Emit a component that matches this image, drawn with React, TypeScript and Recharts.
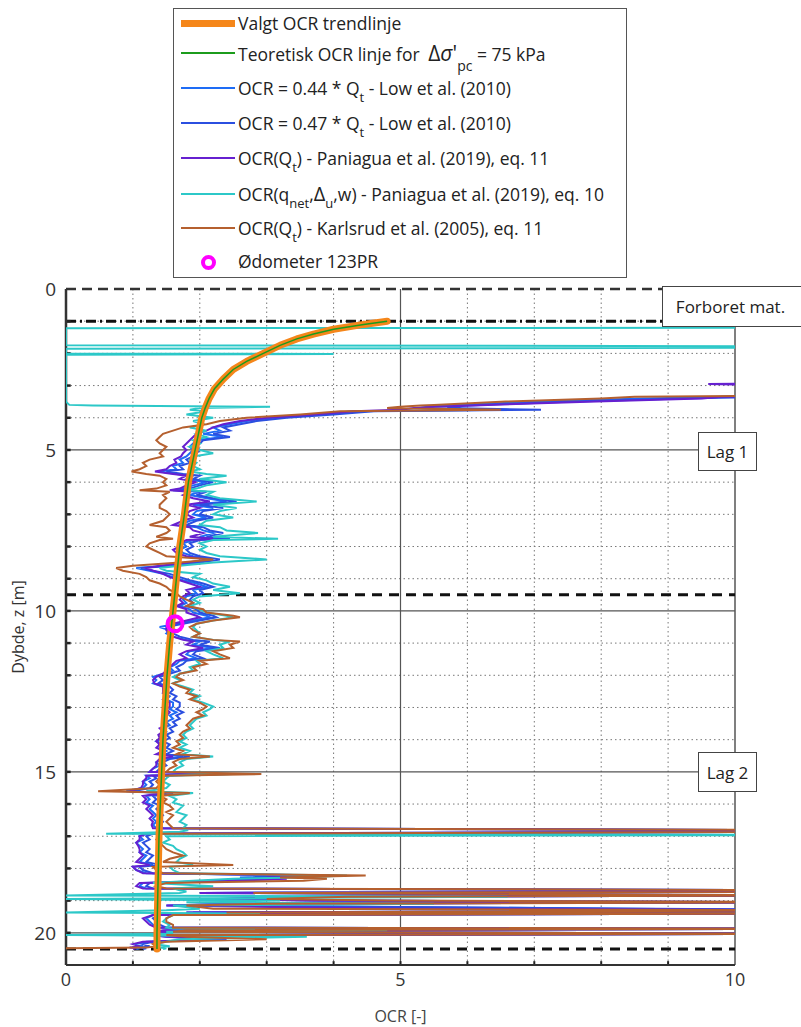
import { ComposedChart, Scatter, XAxis, YAxis, ReferenceLine, CartesianGrid } from 'recharts';

// dybder (m) felles for alle CPT-tolkninger
const depth = [
  1.18, 1.2, 1.22, 1.75, 1.78, 1.82, 1.86, 1.9, 2.0, 2.02,
  2.04, 2.9, 2.95, 3.0, 3.3, 3.35, 3.4, 3.5, 3.6, 3.62,
  3.66, 3.7, 3.75, 3.8, 3.9, 4.0, 4.1, 4.2, 4.3, 4.4,
  4.5, 4.6, 4.7, 4.8, 4.9, 5.0, 5.1, 5.2, 5.3, 5.4,
  5.5, 5.6, 5.67, 5.75, 5.8, 5.9, 6.0, 6.1, 6.2, 6.25,
  6.3, 6.4, 6.5, 6.6, 6.7, 6.8, 6.9, 7.0, 7.1, 7.2,
  7.33, 7.4, 7.5, 7.58, 7.7, 7.76, 7.8, 7.9, 8.0, 8.1,
  8.2, 8.3, 8.4, 8.5, 8.6, 8.67, 8.75, 8.85, 8.95, 9.05,
  9.15, 9.25, 9.35, 9.45, 9.55, 9.65, 9.75, 9.85, 9.95, 10.05,
  10.15, 10.2, 10.3, 10.4, 10.5, 10.6, 10.7, 10.8, 10.9, 10.95,
  11.05, 11.15, 11.25, 11.35, 11.47, 11.55, 11.65, 11.75, 11.85, 11.95,
  12.05, 12.15, 12.25, 12.35, 12.45, 12.55, 12.65, 12.75, 12.85, 12.97,
  13.05, 13.15, 13.25, 13.35, 13.45, 13.55, 13.65, 13.75, 13.85, 13.95,
  14.05, 14.15, 14.25, 14.35, 14.45, 14.52, 14.6, 14.7, 14.8, 14.9,
  15.0, 15.07, 15.12, 15.2, 15.3, 15.4, 15.5, 15.6, 15.66, 15.75,
  15.85, 15.95, 16.05, 16.15, 16.25, 16.35, 16.45, 16.55, 16.65, 16.75,
  16.82, 16.86, 16.92, 16.96, 17.0, 17.1, 17.2, 17.3, 17.4, 17.5,
  17.6, 17.7, 17.8, 17.89, 17.95, 18.05, 18.15, 18.22, 18.28, 18.32,
  18.38, 18.45, 18.55, 18.62, 18.68, 18.72, 18.76, 18.84, 18.88, 18.95,
  19.0, 19.05, 19.1, 19.15, 19.25, 19.3, 19.37, 19.4, 19.45, 19.55,
  19.65, 19.75, 19.84, 19.87, 19.92, 19.97, 20.03, 20.07, 20.12, 20.2,
  20.28, 20.35, 20.42, 20.46, 20.48, 20.5,
];

const N = null;

const ocrLow044: (number | null)[] = [
  N, N, N, N, N, N, N, N, N, N,
  N, 11, 10.5, 10.6, 10.8, 10.0, 8.6, 7.0, 5.8, 5.6,
  5.4, 5.3, 6.6, 4.3, 3.8, 3.1, 2.7, 2.45, 2.2, 2.3,
  2.05, 2.35, 1.95, 1.9, 1.85, 1.9, 1.85, 1.8, 1.7, 1.75,
  1.6, 1.65, 1.4, 1.65, 1.9, 1.8, 2.1, 1.9, 1.75, 1.6,
  2.0, 1.85, 2.1, 2.4, 1.9, 2.2, 1.95, 1.9, 2.1, 1.85,
  1.7, 1.95, 2.05, 2.2, 2.0, 2.3, 1.9, 1.75, 1.8, 1.7,
  1.75, 1.9, 2.2, 1.9, 1.5, 1.05, 1.25, 1.45, 1.6, 1.75,
  1.95, 2.1, 1.9, 1.95, 1.8, 1.75, 1.8, 1.7, 1.85, 1.9,
  2.1, 2.15, 1.9, 1.65, 1.4, 1.55, 1.5, 1.6, 1.8, 2.0,
  1.9, 2.2, 1.85, 1.8, 1.95, 1.7, 1.65, 1.55, 1.6, 1.45,
  1.3, 1.35, 1.3, 1.45, 1.5, 1.45, 1.55, 1.5, 1.6, 1.6,
  1.55, 1.65, 1.55, 1.6, 1.5, 1.55, 1.45, 1.5, 1.4, 1.45,
  1.35, 1.45, 1.4, 1.5, 1.4, 1.75, 1.45, 1.35, 1.4, 1.3,
  1.25, 2.3, 1.2, 1.25, 1.15, 1.2, 1.15, 0.9, 1.5, 1.2,
  1.25, 1.2, 1.3, 1.25, 1.3, 1.35, 1.3, 1.35, 1.3, 1.35,
  12, 11, 1.2, 1.15, 1.1, 1.15, 1.05, 1.1, 1.15, 1.1,
  1.2, 1.15, 1.1, 1.3, 1.0, 1.05, 1.2, 3.6, 2.6, 3.0,
  2.3, 1.15, 1.1, 1.2, 11, 11, 2.0, 11, 3.5, 2.2,
  3.6, 11, 2.5, 1.5, 8.3, 12, 1.8, 11, 1.3, 1.2,
  1.25, 1.3, 1.4, 12, 1.5, 1.4, 12, 1.3, 1.5, 2.2,
  1.2, 1.05, 1.15, 1.0, 1.1, 1.05,
];

const ocrLow047: (number | null)[] = [
  N, N, N, N, N, N, N, N, N, N,
  N, 11.7, 11.2, 11.3, 11.4, 10.6, 9.2, 7.5, 6.2, 6.0,
  5.8, 5.7, 7.1, 4.6, 4.0, 3.3, 2.85, 2.6, 2.35, 2.45,
  2.2, 2.45, 2.05, 2.0, 1.95, 2.0, 1.95, 1.9, 1.8, 1.85,
  1.7, 1.75, 1.5, 1.75, 2.0, 1.9, 2.2, 2.0, 1.85, 1.7,
  2.1, 1.95, 2.2, 2.55, 2.0, 2.35, 2.05, 2.0, 2.2, 1.95,
  1.8, 2.05, 2.15, 2.35, 2.1, 2.45, 2.0, 1.85, 1.9, 1.8,
  1.85, 2.0, 2.3, 2.0, 1.6, 1.12, 1.3, 1.55, 1.7, 1.85,
  2.05, 2.2, 2.0, 2.05, 1.9, 1.85, 1.9, 1.8, 1.95, 2.0,
  2.2, 2.25, 2.0, 1.75, 1.5, 1.65, 1.6, 1.7, 1.9, 2.15,
  2.0, 2.3, 1.95, 1.9, 2.05, 1.8, 1.75, 1.65, 1.7, 1.55,
  1.4, 1.45, 1.38, 1.55, 1.6, 1.55, 1.65, 1.6, 1.7, 1.7,
  1.65, 1.75, 1.65, 1.7, 1.6, 1.65, 1.55, 1.6, 1.5, 1.55,
  1.45, 1.55, 1.5, 1.6, 1.5, 1.85, 1.55, 1.45, 1.5, 1.4,
  1.35, 2.45, 1.3, 1.35, 1.25, 1.3, 1.25, 1.0, 1.6, 1.3,
  1.35, 1.3, 1.4, 1.35, 1.4, 1.45, 1.4, 1.45, 1.4, 1.45,
  12, 11.5, 1.3, 1.25, 1.2, 1.25, 1.15, 1.2, 1.25, 1.2,
  1.3, 1.25, 1.2, 1.4, 1.1, 1.15, 1.3, 3.8, 2.8, 3.2,
  2.45, 1.25, 1.2, 1.3, 11.5, 11.5, 2.1, 11.5, 3.7, 2.35,
  3.8, 11.5, 2.7, 1.6, 8.8, 12, 1.9, 11.5, 1.4, 1.3,
  1.35, 1.4, 1.5, 12, 1.6, 1.5, 12, 1.4, 1.6, 2.3,
  1.3, 1.15, 1.25, 1.1, 1.2, 1.15,
];

const ocrPaniagua11: (number | null)[] = [
  N, N, N, N, N, N, N, N, N, N,
  N, 12, 9.6, 10.8, 10.5, 9.8, 9.5, 7.8, 6.3, 6.1,
  5.5, 5.2, 5.0, 4.3, 3.7, 3.0, 2.6, 2.35, 2.2, 2.1,
  1.95, 1.9, 1.85, 1.8, 1.75, 1.8, 1.75, 1.72, 1.62, 1.65,
  1.55, 1.5, 1.33, 1.6, 1.8, 1.7, 1.95, 1.8, 1.7, 1.55,
  1.85, 1.75, 1.9, 2.15, 1.8, 2.0, 1.85, 1.8, 1.9, 1.75,
  1.6, 1.85, 1.9, 2.05, 1.85, 2.2, 1.8, 1.7, 1.7, 1.6,
  1.65, 1.8, 2.1, 1.8, 1.4, 1.2, 1.3, 1.45, 1.55, 1.7,
  1.85, 2.0, 1.8, 1.85, 1.75, 1.7, 1.75, 1.65, 1.8, 1.8,
  1.95, 2.0, 1.8, 1.6, 1.5, 1.5, 1.55, 1.6, 1.75, 1.9,
  1.8, 2.05, 1.8, 1.7, 1.8, 1.65, 1.6, 1.55, 1.5, 1.45,
  1.35, 1.3, 1.32, 1.45, 1.45, 1.45, 1.5, 1.45, 1.55, 1.55,
  1.5, 1.55, 1.5, 1.5, 1.45, 1.5, 1.4, 1.45, 1.38, 1.4,
  1.35, 1.4, 1.35, 1.45, 1.35, 1.6, 1.4, 1.35, 1.35, 1.3,
  1.25, 2.2, 1.2, 1.2, 1.15, 1.15, 1.12, 0.95, 1.45, 1.15,
  1.2, 1.15, 1.25, 1.2, 1.25, 1.3, 1.25, 1.3, 1.28, 1.3,
  12, 11, 1.2, 1.15, 1.1, 1.1, 1.05, 1.08, 1.1, 1.1,
  1.15, 1.1, 1.05, 1.25, 1.0, 1.05, 1.15, 4.0, 3.0, 3.3,
  2.6, 1.1, 1.05, 1.15, 11, 11, 2.0, 11, 3.6, 2.3,
  3.7, 11, 2.6, 1.5, 5.0, 12, 1.8, 11, 1.3, 1.15,
  1.2, 1.25, 1.35, 12, 1.45, 1.35, 12, 1.25, 1.5, 2.4,
  1.15, 1.0, 1.1, 0.95, 1.05, 1.0,
];

const ocrPaniagua10: (number | null)[] = [
  12, 12, 0, 0, 12, 12, 0, 0, 0, 4,
  0, 0, 0, 0, 0, 0, 0, 0, 0.05, 0.4,
  3.05, 2.0, 1.85, 2.1, 1.8, 2.2, 1.9, 2.05, 1.85, 2.1,
  1.95, 2.1, 1.9, 2.0, 1.85, 2.0, 2.2, 1.9, 1.85, 1.95,
  1.9, 2.0, 1.85, 2.1, 2.4, 2.0, 2.4, 2.1, 1.95, 1.8,
  2.2, 2.1, 2.3, 2.85, 2.2, 2.55, 2.3, 2.2, 2.5, 2.1,
  2.0, 2.3, 2.4, 2.87, 2.2, 3.17, 2.2, 2.0, 2.1, 2.0,
  2.1, 2.3, 3.0, 2.2, 1.7, 1.4, 1.5, 2.0, 1.9, 2.1,
  2.2, 2.45, 2.2, 2.6, 2.0, 1.9, 2.0, 1.85, 2.0, 2.1,
  2.4, 2.5, 2.2, 1.95, 1.9, 1.95, 2.0, 1.9, 2.2, 2.45,
  2.3, 2.35, 2.1, 2.2, 2.35, 1.95, 2.0, 1.85, 1.9, 1.7,
  1.6, 1.7, 1.6, 1.75, 1.9, 1.85, 2.0, 1.9, 2.05, 2.2,
  2.15, 2.05, 2.1, 1.95, 1.9, 1.85, 1.9, 1.8, 1.75, 1.8,
  1.7, 1.8, 1.7, 1.85, 1.75, 2.2, 1.8, 1.7, 1.75, 1.65,
  1.6, 2.5, 1.55, 1.5, 1.45, 1.55, 1.5, 1.2, 1.9, 1.55,
  1.65, 1.6, 1.75, 1.7, 1.65, 1.8, 1.75, 1.7, 1.8, 1.75,
  1.8, 1.7, 0.6, 12, 1.5, 1.55, 1.45, 1.6, 1.65, 1.75,
  1.8, 1.7, 1.65, 1.9, 1.55, 1.6, 1.7, 4.2, 3.5, 2.5,
  1.9, 1.3, 2.2, 1.6, 1.7, 1.8, 1.7, 0, 6.6, 0,
  3.2, 1.8, 5.5, 1.6, 2.0, 1.5, 0, 2.9, 1.6, 1.5,
  1.45, 1.55, 1.5, 1.6, 4.8, 1.5, 1.6, 0, 3.6, 1.7,
  1.5, 1.3, 1.55, 1.4, 1.5, 1.45,
];

const ocrKarlsrud: (number | null)[] = [
  N, N, N, N, N, N, N, N, N, N,
  N, 12, 11.5, 11.5, 11.2, 8.5, 8.0, 6.5, 5.5, 5.3,
  5.0, 4.8, 6.5, 4.1, 3.5, 2.7, 2.3, 2.1, 1.75, 1.6,
  1.45, 1.4, 1.35, 1.4, 1.5, 1.45, 1.4, 1.45, 1.25, 1.15,
  1.2, 1.1, 0.98, 1.2, 1.4, 1.5, 1.45, 1.5, 1.35, 1.1,
  1.55, 1.45, 1.5, 1.45, 1.4, 1.4, 1.5, 1.55, 1.5, 1.45,
  1.25, 1.5, 1.55, 1.5, 1.35, 1.6, 1.4, 1.25, 1.2, 1.3,
  1.4, 1.5, 2.2, 1.7, 1.0, 0.75, 0.85, 1.1, 1.2, 1.25,
  1.4, 1.5, 1.55, 1.65, 1.7, 1.8, 1.9, 1.8, 2.05, 2.1,
  2.5, 2.6, 2.2, 1.95, 1.85, 1.9, 2.0, 1.9, 2.2, 2.6,
  2.45, 2.5, 2.2, 2.3, 2.45, 2.0, 2.1, 1.9, 1.95, 1.7,
  1.65, 1.75, 1.6, 1.7, 1.85, 1.8, 1.95, 1.85, 2.0, 2.1,
  2.05, 1.95, 2.05, 1.9, 1.85, 1.8, 1.85, 1.75, 1.7, 1.75,
  1.65, 1.7, 1.6, 1.75, 1.65, 2.15, 1.7, 1.6, 1.65, 1.55,
  1.5, 2.92, 1.45, 1.4, 1.35, 1.4, 1.35, 0.48, 1.85, 1.4,
  1.5, 1.45, 1.55, 1.6, 1.5, 1.6, 1.55, 1.5, 1.55, 1.6,
  13, 12, 1.4, 1.4, 1.4, 1.35, 1.4, 1.45, 1.5, 1.6,
  1.75, 1.55, 1.45, 2.5, 1.3, 1.35, 1.45, 4.48, 3.2, 3.9,
  3.55, 1.5, 1.35, 1.5, 12, 12, 2.8, 12, 4.2, 3.0,
  4.8, 12, 3.0, 1.8, 2.2, 12, 2.4, 12, 1.6, 1.5,
  1.5, 1.6, 1.6, 12, 1.8, 1.6, 12, 1.5, 1.8, 3.0,
  1.5, 1.3, 1.35, 1.2, 0, 0,
];

// valgt trendlinje / teoretisk linje
const trendDepth = [1.0, 1.1, 1.25, 1.4, 1.55, 1.75, 2.0, 2.25, 2.5, 2.8, 3.1, 3.4, 3.7, 4.0, 5.0, 6.0, 7.0, 8.0, 9.0, 10.0, 11.0, 12.0, 13.0, 14.0, 15.0, 16.0, 17.0, 18.0, 19.0, 20.0, 20.5];
const trendOcr = [4.8, 4.45, 4.0, 3.7, 3.45, 3.2, 2.95, 2.7, 2.5, 2.35, 2.22, 2.14, 2.08, 2.03, 1.93, 1.83, 1.77, 1.7, 1.65, 1.6, 1.55, 1.51, 1.48, 1.45, 1.43, 1.41, 1.39, 1.38, 1.37, 1.36, 1.36];

const odometerDepth = [10.4];
const odometerOcr = [1.63];

const xTicks = [0, 5, 10];
const yTicks = [0, 5, 10, 15, 20];
const xMinor = [1, 2, 3, 4, 6, 7, 8, 9];
const yMinor = [1, 2, 3, 4, 6, 7, 8, 9, 11, 12, 13, 14, 16, 17, 18, 19];
const xMajor = [5];
const yMajor = [5, 10, 15, 20];
const yTickMarks = [1, 2, 3, 4, 5, 6, 7, 8, 9, 10, 11, 12, 13, 14, 15, 16, 17, 18, 19, 20];
const xTickMarks = [1, 2, 3, 4, 5, 6, 7, 8, 9];

const FONT = "'Open Sans', 'DejaVu Sans', sans-serif";

const C = {
  orange: '#f5861a',
  green: '#1c9c1c',
  blue1: '#1e6cf5',
  blue2: '#2b4fe0',
  purple: '#6620d0',
  cyan: '#2cc8c8',
  brown: '#b5602f',
  magenta: '#ff00ff',
};

const toPoints = (d: number[], ocr: (number | null)[]) =>
  d.map((z, i) => ({ x: ocr[i], y: z })).filter((p) => p.x !== null && p.x !== undefined);

const noDot = () => <g />;

const ring = (p: any) => (
  <circle cx={p.cx} cy={p.cy} r={7.5} fill="none" stroke={C.magenta} strokeWidth={4} />
);

const sub = (t: string) => (
  <span style={{ fontSize: 13, position: 'relative', top: 7 }}>{t}</span>
);

function LegendBox() {
  const rows: { top: number; kind: 'line' | 'thick' | 'ring'; color: string; label: any }[] = [
    { top: 14, kind: 'thick', color: C.orange, label: <>Valgt OCR trendlinje</> },
    {
      top: 44, kind: 'line', color: C.green,
      label: <>Teoretisk OCR linje for <span style={{ fontSize: 21, marginLeft: 4 }}>Δ<i>σ</i>'</span><span style={{ fontSize: 14, position: 'relative', top: 10 }}>pc</span> = 75 kPa</>,
    },
    { top: 79, kind: 'line', color: C.blue1, label: <>OCR = 0.44 * Q{sub('t')} - Low et al. (2010)</> },
    { top: 114, kind: 'line', color: C.blue2, label: <>OCR = 0.47 * Q{sub('t')} - Low et al. (2010)</> },
    { top: 149, kind: 'line', color: C.purple, label: <>OCR(Q{sub('t')}) - Paniagua et al. (2019), eq. 11</> },
    { top: 185, kind: 'line', color: C.cyan, label: <>OCR(q{sub('net')},<span style={{ fontSize: 20 }}>Δ</span>{sub('u')},w) - Paniagua et al. (2019), eq. 10</> },
    { top: 219, kind: 'line', color: C.brown, label: <>OCR(Q{sub('t')}) - Karlsrud et al. (2005), eq. 11</> },
    { top: 252, kind: 'ring', color: C.magenta, label: <>Ødometer 123PR</> },
  ];
  return (
    <div style={{ position: 'absolute', left: 173, top: 8, width: 452, height: 268, border: '1px solid #555', background: '#fff', fontFamily: FONT, fontSize: 17.5, color: '#222' }}>
      {rows.map((r, i) => (
        <div key={i} style={{ position: 'absolute', left: 0, top: r.top - 12, height: 24, width: 452 }}>
          {r.kind === 'ring' ? (
            <div style={{ position: 'absolute', left: 27, top: 6, width: 7, height: 7, border: `4px solid ${r.color}`, borderRadius: '50%' }} />
          ) : (
            <div style={{ position: 'absolute', left: 7, top: r.kind === 'thick' ? 9 : 11, width: 54, height: r.kind === 'thick' ? 7 : 2, background: r.color }} />
          )}
          <div style={{ position: 'absolute', left: 64, top: 0, lineHeight: '24px', whiteSpace: 'nowrap' }}>{r.label}</div>
        </div>
      ))}
    </div>
  );
}

const boxStyle = (left: number, top: number, width: number, height: number): any => ({
  position: 'absolute', left, top, width, height, border: '1px solid #444', background: '#fff',
  fontFamily: FONT, fontSize: 17, color: '#222', display: 'flex', alignItems: 'center', justifyContent: 'center',
  boxSizing: 'border-box', whiteSpace: 'nowrap',
});

export default function App() {
  return (
    <div style={{ position: 'absolute', left: 0, top: 0, width: 801, height: 1027, background: '#fff', overflow: 'hidden' }}>
      <ComposedChart width={801} height={1027} margin={{ top: 289, right: 66, bottom: 0, left: 26 }}>
        <CartesianGrid
          stroke="#777"
          strokeDasharray="1.5 3"
          verticalValues={xMinor}
          horizontalValues={yMinor}
        />
        <XAxis
          type="number"
          dataKey="x"
          domain={[0, 10]}
          ticks={xTicks}
          allowDataOverflow
          height={62}
          tickLine={false}
          tickMargin={2}
          axisLine={{ stroke: '#333', strokeWidth: 2 }}
          tick={{ fill: '#333', fontSize: 18, fontFamily: FONT }}
          label={{ value: 'OCR [-]', position: 'insideBottom', offset: 5, fill: '#444', fontSize: 16, fontFamily: FONT }}
        />
        <YAxis
          type="number"
          dataKey="y"
          domain={[0, 21]}
          ticks={yTicks}
          reversed
          allowDataOverflow
          width={40}
          tickLine={false}
          tickMargin={4}
          axisLine={{ stroke: '#333', strokeWidth: 2.5 }}
          tick={{ fill: '#333', fontSize: 19, fontFamily: FONT }}
          label={{ value: 'Dybde, z [m]', angle: -90, position: 'insideLeft', offset: -8, fill: '#333', fontSize: 16, fontFamily: FONT, style: { textAnchor: 'middle' } }}
        />
        {xMajor.map((v) => (
          <ReferenceLine key={'xm' + v} x={v} stroke="#555" strokeWidth={1.2} />
        ))}
        {yMajor.map((v) => (
          <ReferenceLine key={'ym' + v} y={v} stroke="#555" strokeWidth={1.2} />
        ))}
        <ReferenceLine x={10} stroke="#555" strokeWidth={1.5} />

        <Scatter data={toPoints(depth, ocrLow044)} line={{ stroke: C.blue1, strokeWidth: 2 }} shape={noDot} isAnimationActive={false} legendType="none" />
        <Scatter data={toPoints(depth, ocrLow047)} line={{ stroke: C.blue2, strokeWidth: 2 }} shape={noDot} isAnimationActive={false} legendType="none" />
        <Scatter data={toPoints(depth, ocrPaniagua11)} line={{ stroke: C.purple, strokeWidth: 2 }} shape={noDot} isAnimationActive={false} legendType="none" />
        <Scatter data={toPoints(depth, ocrPaniagua10)} line={{ stroke: C.cyan, strokeWidth: 2 }} shape={noDot} isAnimationActive={false} legendType="none" />
        <Scatter data={toPoints(depth, ocrKarlsrud)} line={{ stroke: C.brown, strokeWidth: 2 }} shape={noDot} isAnimationActive={false} legendType="none" />

        <Scatter data={toPoints(trendDepth, trendOcr)} line={{ stroke: C.orange, strokeWidth: 7, strokeLinejoin: 'round', strokeLinecap: 'round' }} shape={noDot} isAnimationActive={false} legendType="none" />
        <Scatter data={toPoints(trendDepth, trendOcr)} line={{ stroke: C.green, strokeWidth: 1.5 }} shape={noDot} isAnimationActive={false} legendType="none" />

        <ReferenceLine y={0} stroke="#333" strokeWidth={2.5} strokeDasharray="10 6" />
        <ReferenceLine y={1} stroke="#111" strokeWidth={3} strokeDasharray="10 4 2 4" />
        <ReferenceLine y={9.5} stroke="#111" strokeWidth={3} strokeDasharray="10 7" />
        <ReferenceLine y={20.5} stroke="#111" strokeWidth={3} strokeDasharray="10 7" />

        {yTickMarks.map((v) => (
          <ReferenceLine key={'yt' + v} segment={[{ x: 0, y: v }, { x: 0.07, y: v }]} stroke="#222" strokeWidth={2.5} />
        ))}
        {xTickMarks.map((v) => (
          <ReferenceLine key={'xt' + v} segment={[{ x: v, y: 21 }, { x: v, y: 20.88 }]} stroke="#222" strokeWidth={2} />
        ))}

        <Scatter data={toPoints(odometerDepth, odometerOcr)} shape={ring} isAnimationActive={false} legendType="none" />
      </ComposedChart>

      <LegendBox />
      <div style={boxStyle(662, 286, 145, 41)}>
        <span style={{ marginRight: 8 }}>Forboret mat.</span>
      </div>
      <div style={boxStyle(698, 432, 59, 39)}>Lag 1</div>
      <div style={boxStyle(698, 752, 59, 40)}>Lag 2</div>
    </div>
  );
}
